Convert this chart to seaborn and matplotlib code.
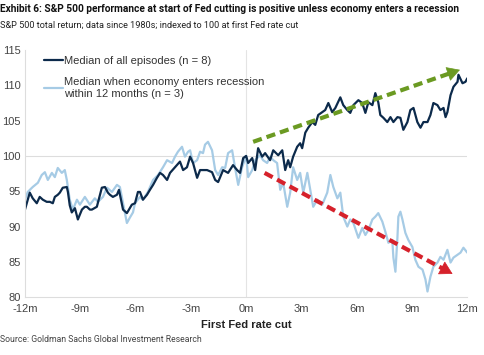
import numpy as np
import pandas as pd
import matplotlib
matplotlib.use("Agg")
import matplotlib.pyplot as plt
import seaborn as sns

# months relative to first Fed rate cut, S&P 500 indexed to 100 at the cut
all_months = [-12.0, -11.74, -11.58, -11.36, -11.20, -11.03, -10.82, -10.65, -10.49, -10.38,
              -10.22, -10.11, -9.95, -9.73, -9.67, -9.57, -9.46, -9.29, -9.13, -8.91,
              -8.75, -8.64, -8.48, -8.37, -8.10, -7.83, -7.66, -7.50, -7.39, -7.23,
              -7.01, -6.90, -6.79, -6.68, -6.47, -6.20, -6.03, -5.87, -5.76, -5.60,
              -5.38, -5.22, -5.05, -4.84, -4.67, -4.51, -4.29, -4.13, -3.86, -3.59,
              -3.42, -3.21, -3.04, -2.88, -2.66, -2.50, -2.12, -1.85, -1.68, -1.52,
              -1.25, -0.98, -0.71, -0.49, -0.33, -0.16, 0.0, 0.11, 0.33, 0.49,
              0.65, 0.87, 1.03, 1.30, 1.47, 1.74, 1.96, 2.12, 2.28, 2.39,
              2.55, 2.77, 2.93, 3.04, 3.21, 3.37, 3.59, 3.75, 3.91, 4.13,
              4.29, 4.46, 4.67, 4.84, 5.11, 5.27, 5.49, 5.65, 5.82, 6.09,
              6.30, 6.47, 6.63, 6.85, 7.01, 7.17, 7.28, 7.45, 7.66, 7.83,
              7.99, 8.21, 8.37, 8.53, 8.75, 8.91, 9.08, 9.29, 9.46, 9.62,
              9.84, 10.00, 10.16, 10.38, 10.54, 10.71, 10.82, 10.92, 11.09, 11.25,
              11.47, 11.52, 11.74, 11.90, 12.0]
all_values = [92.4, 94.8, 94.0, 93.3, 94.2, 93.8, 93.5, 93.5, 93.3, 94.2,
              94.5, 94.8, 95.5, 95.6, 94.9, 93.0, 92.0, 92.6, 91.0, 92.4,
              92.8, 92.8, 92.4, 92.4, 92.8, 95.5, 95.6, 94.8, 94.5, 94.2,
              94.5, 95.2, 93.8, 92.4, 91.9, 93.1, 93.3, 94.9, 94.9, 93.8,
              94.5, 95.2, 95.9, 96.9, 97.6, 97.3, 96.6, 97.6, 98.4, 99.2,
              98.0, 98.4, 99.9, 99.0, 96.9, 98.0, 98.0, 97.7, 96.6, 96.3,
              98.0, 97.6, 98.7, 98.0, 97.6, 99.7, 100.0, 99.0, 99.7, 98.0,
              101.1, 99.9, 100.4, 99.4, 100.8, 100.1, 100.8, 98.0, 99.4, 98.4,
              99.9, 101.3, 101.8, 101.1, 103.3, 104.0, 104.8, 104.4, 105.8, 106.2,
              106.5, 107.5, 106.2, 106.8, 108.3, 107.2, 106.5, 106.1, 107.2, 107.9,
              107.5, 106.1, 107.6, 107.2, 108.9, 107.6, 105.8, 105.4, 104.8, 105.5,
              104.8, 105.5, 105.4, 103.7, 104.8, 106.5, 106.8, 104.8, 104.0, 104.8,
              104.8, 105.8, 107.5, 107.2, 106.5, 106.8, 105.5, 106.2, 108.6, 109.8,
              110.5, 111.5, 110.3, 110.5, 111.0]

rec_months = [-12.0, -11.85, -11.58, -11.30, -11.09, -10.92, -10.76, -10.54, -10.38, -10.22,
              -10.0, -9.84, -9.73, -9.57, -9.40, -9.18, -9.02, -8.75, -8.48, -8.21,
              -8.04, -7.77, -7.55, -7.28, -7.01, -6.85, -6.68, -6.47, -6.30, -6.14,
              -6.03, -5.76, -5.60, -5.33, -5.05, -4.78, -4.51, -4.29, -4.02, -3.86,
              -3.70, -3.48, -3.32, -3.15, -3.04, -2.88, -2.66, -2.50, -2.34, -2.23,
              -2.07, -1.85, -1.68, -1.52, -1.30, -1.14, -0.98, -0.76, -0.60, -0.43,
              -0.22, 0.0, 0.11, 0.33, 0.49, 0.76, 0.92, 1.14, 1.30, 1.47,
              1.68, 1.85, 2.01, 2.23, 2.39, 2.55, 2.77, 2.93, 3.10, 3.32,
              3.48, 3.64, 3.86, 4.13, 4.40, 4.57, 4.73, 4.95, 5.11, 5.27,
              5.49, 5.65, 5.82, 6.09, 6.30, 6.47, 6.63, 6.85, 7.01, 7.17,
              7.39, 7.55, 7.72, 7.93, 7.99, 8.10, 8.21, 8.26, 8.37, 8.48,
              8.64, 8.80, 9.02, 9.18, 9.35, 9.57, 9.73, 9.84, 10.0, 10.16,
              10.38, 10.54, 10.71, 10.92, 11.09, 11.25, 11.47, 11.63, 11.79, 12.0]
rec_values = [93.8, 94.9, 95.6, 96.2, 97.3, 97.7, 96.6, 97.6, 97.0, 98.3,
              97.6, 98.0, 96.6, 93.8, 92.4, 93.8, 93.1, 94.2, 93.1, 94.0,
              93.5, 94.2, 95.5, 94.9, 95.9, 95.6, 93.3, 90.5, 91.3, 92.0,
              93.3, 94.2, 93.8, 94.9, 96.6, 97.3, 98.4, 99.4, 99.0, 99.9,
              100.6, 101.3, 99.9, 100.6, 100.8, 99.0, 99.4, 100.6, 100.4, 101.6,
              102.0, 100.8, 98.0, 97.3, 98.4, 98.3, 100.4, 100.8, 98.3, 95.9,
              98.4, 100.0, 97.0, 98.0, 99.4, 100.1, 99.4, 99.0, 99.9, 99.4,
              99.0, 95.2, 96.2, 92.8, 94.8, 98.4, 96.6, 97.6, 94.8, 97.6,
              95.2, 92.8, 93.8, 93.1, 94.8, 97.3, 95.6, 94.0, 94.8, 91.4,
              90.0, 91.0, 90.5, 88.4, 89.8, 88.8, 89.5, 91.0, 91.4, 91.9,
              90.7, 89.3, 87.7, 88.1, 85.6, 83.6, 88.5, 91.4, 92.1, 91.0,
              89.1, 88.1, 87.1, 85.3, 84.3, 83.9, 82.5, 80.8, 82.9, 84.3,
              84.9, 85.7, 85.3, 86.7, 84.9, 85.6, 86.0, 86.3, 87.0, 86.3]

label_all = "Median of all episodes (n = 8)"
label_rec = "Median when economy enters recession\nwithin 12 months (n = 3)"
tick_pos = [-12, -9, -6, -3, 0, 3, 6, 9, 12]
tick_labels = ["-12m", "-9m", "-6m", "-3m", "0m", "3m", "6m", "9m", "12m"]

# trend arrows (start, end) in data coords
green_arrow = [(0.38, 102.0), (11.6, 112.2)]
red_arrow = [(1.0, 97.6), (11.2, 83.3)]

df = pd.concat([
    pd.DataFrame({"month": all_months, "value": all_values, "series": label_all}),
    pd.DataFrame({"month": rec_months, "value": rec_values, "series": label_rec}),
])

sns.set_theme(style="white")
plt.rcParams["font.family"] = ["Liberation Sans", "DejaVu Sans"]

fig = plt.figure(figsize=(4.85, 3.55), dpi=100)
ax = fig.add_axes([0.0515, 0.163, 0.912, 0.696])

ax.axhline(100, color="#dddddd", lw=0.8, zorder=0)
ax.axvline(0, color="#e4e4e4", lw=0.8, zorder=0)

sns.lineplot(data=df, x="month", y="value", hue="series",
             hue_order=[label_rec, label_all],
             palette={label_all: "#0c2a4b", label_rec: "#a6cbe5"},
             lw=1.6, ax=ax, legend=True)

for (start, end), col in [(green_arrow, "#6b9a22"), (red_arrow, "#d6212b")]:
    frac = 0.95
    mid = (start[0] + (end[0] - start[0]) * frac, start[1] + (end[1] - start[1]) * frac)
    ax.plot([start[0], mid[0]], [start[1], mid[1]], color=col, lw=3,
            dashes=(2.2, 1.2), solid_capstyle="butt", zorder=5)
    ax.annotate("", xy=end, xytext=mid,
                arrowprops=dict(arrowstyle="-|>,head_length=0.7,head_width=0.4",
                                color=col, lw=0.5, shrinkA=0, shrinkB=0), zorder=6)

ax.set_xlim(-12, 12)
ax.set_ylim(80, 115)
ax.set_yticks(range(80, 116, 5))
ax.set_xticks(tick_pos)
ax.set_xticklabels(tick_labels)
ax.tick_params(axis="both", labelsize=8, colors="#444444", length=2, pad=3)
ax.tick_params(axis="y", length=0)
ax.set_xlabel("First Fed rate cut", fontsize=8, fontweight="bold", color="#222222", labelpad=4)
ax.set_ylabel("")

for side in ["top", "right"]:
    ax.spines[side].set_visible(False)
for side in ["left", "bottom"]:
    ax.spines[side].set_color("#dddddd")
    ax.spines[side].set_linewidth(0.8)

handles, labels = ax.get_legend_handles_labels()
order = [labels.index(label_all), labels.index(label_rec)]
leg = ax.legend([handles[i] for i in order], [labels[i] for i in order],
                loc="upper left", bbox_to_anchor=(0.02, 1.015), frameon=False,
                fontsize=8, handlelength=1.7, handletextpad=0.1, labelspacing=1.0)
for t in leg.get_texts():
    t.set_color("#333333")

head_font = ["Roboto", "DejaVu Sans"]
fig.text(0.0, 0.99, "Exhibit 6: S&P 500 performance at start of Fed cutting is positive unless economy enters a recession",
         fontsize=7.3, fontweight="bold", ha="left", va="top", color="#111111", family=head_font)
fig.text(0.0, 0.94, "S&P 500 total return; data since 1980s; indexed to 100 at first Fed rate cut",
         fontsize=6.6, ha="left", va="top", color="#222222", family=head_font)
fig.text(0.0, 0.03, "Source: Goldman Sachs Global Investment Research",
         fontsize=6.2, ha="left", va="bottom", color="#444444", family=head_font)

fig.savefig("out.png", dpi=100)
